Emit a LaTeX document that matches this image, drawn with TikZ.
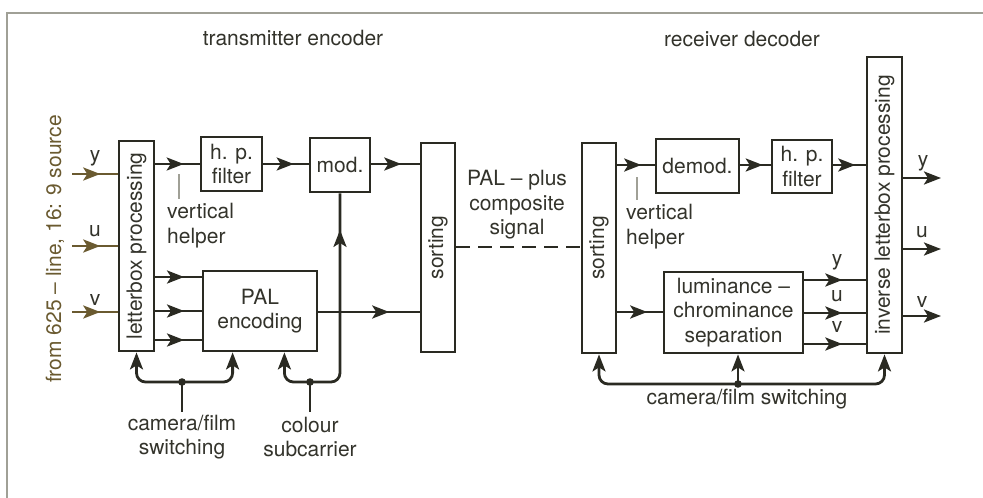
\documentclass[tikz,border=0pt]{standalone}
\usepackage{fontspec}
\usepackage{graphicx}
\setmainfont{TeX Gyre Heros}
\usetikzlibrary{arrows.meta,decorations.markings}
\definecolor{ink}{HTML}{2A2A22}
\definecolor{txt}{HTML}{33332B}
\definecolor{brn}{HTML}{6A5A30}
\definecolor{frm}{HTML}{A0A096}
\begin{document}
\begin{tikzpicture}[x=1pt,y=-1pt,
  every node/.style={font=\fontsize{21}{24.5}\selectfont, text=txt, inner sep=0pt},
  box/.style={draw=ink, line width=2.8pt, align=center},
  conn/.style={draw=ink, line width=2.8pt},
  midarrow/.style={postaction={decorate},decoration={markings,mark=at position #1 with {\arrow{Stealth[length=17pt,width=13pt,inset=4pt]}}}},
  endarrow/.style={-{Stealth[length=17pt,width=13pt,inset=4pt]}},
  tick/.style={draw=frm, line width=1.5pt},
  junction/.style={fill=ink}
]
\useasboundingbox (0,0) rectangle (983,498);
% frame
\draw[frm, line width=2pt] (983,13) -- (7,13) -- (7,498);

% headers
\node (th) at (293,38) {transmitter encoder};
\node (rh) at (742,39) {receiver decoder};

% boxes
\node[box, minimum width=35pt, minimum height=210pt] (lb) at (136.5,246) {\rotatebox{90}{letterbox processing}};
\node[box, minimum width=61pt, minimum height=54pt] (hp1) at (231.5,164) {h. p.\\filter};
\node[box, minimum width=60pt, minimum height=54pt] (mod) at (340,165) {mod.};
\node[box, minimum width=34pt, minimum height=209pt] (s1) at (438,247.5) {\rotatebox{90}{sorting}};
\node[box, minimum width=114pt, minimum height=80pt] (pal) at (260,311) {PAL\\encoding};
\node[box, minimum width=34pt, minimum height=210pt] (s2) at (599,248) {\rotatebox{90}{sorting}};
\node[box, minimum width=83pt, minimum height=54pt] (dem) at (697.5,166) {demod.};
\node[box, minimum width=60pt, minimum height=53pt] (hp2) at (802,166.5) {h. p.\\filter};
\node[box, minimum width=35pt, minimum height=296pt] (inv) at (884.5,205) {\rotatebox{90}{inverse letterbox processing}};
\node[box, minimum width=139pt, minimum height=81pt] (lum) at (733.5,312.5) {luminance –\\chrominance\\separation};

% source label and inputs
\node[text=brn] (src) at (55,249) {\rotatebox{90}{from 625 – line, 16: 9 source}};
\coordinate (iy) at (72,174);
\coordinate (iu) at (72,246);
\coordinate (iv) at (72,312);
\draw[conn, draw=brn, midarrow=0.62] (iy) -- (iy -| lb.west);
\draw[conn, draw=brn, midarrow=0.62] (iu) -- (iu -| lb.west);
\draw[conn, draw=brn, midarrow=0.62] (iv) -- (iv -| lb.west);
\node (ly) at (95,158) {y};
\node (lu) at (95,231) {u};
\node (lv) at (95,300) {v};

% transmitter connections
\draw[conn, midarrow=0.64] (lb.east |- hp1) -- (hp1.west);
\draw[conn, midarrow=0.67] (hp1.east) -- (hp1.east -| mod.west);
\draw[conn, midarrow=0.62] (mod.east |- hp1) -- (hp1 -| s1.west);
\foreach \yy in {277,311,340}{
  \draw[conn, midarrow=0.62] (lb.east |- 0,\yy) -- (pal.west |- 0,\yy);
}
\draw[conn, midarrow=0.7] (pal.east |- 0,312) -- (s1.west |- 0,312);
\draw[tick] (179,174) -- (179,199);
\node[align=left, anchor=north west] (vh1) at (167,203) {vertical\\helper};

% transmitter camera/film switching
\coordinate (cf1) at (182,382);
\coordinate (cf1e) at (182,412);
\coordinate (pa) at ([xshift=31pt]pal.south west);
\draw[conn] (cf1) -- (cf1e);
\draw[conn, endarrow, rounded corners=9pt] (cf1) -- (lb.south |- cf1) -- (lb.south);
\draw[conn, endarrow, rounded corners=9pt] (cf1) -- (pa |- cf1) -- (pa);
\fill[junction] (cf1) circle (3.8pt);
\node[align=center] (cft) at (182,437) {camera/film\\switching};

% colour subcarrier
\coordinate (cs) at (310,382);
\coordinate (cse) at (310,412);
\coordinate (pb) at ([xshift=-34pt]pal.south east);
\draw[conn] (cs) -- (cse);
\draw[conn, endarrow, rounded corners=9pt] (cs) -- (pb |- cs) -- (pb);
\draw[conn, midarrow=0.83, rounded corners=9pt] (cs) -- (mod.south |- cs) -- (mod.south);
\fill[junction] (cs) circle (3.8pt);
\node[align=center] (cst) at (310,437) {colour\\subcarrier};

% channel
\draw[conn, dash pattern=on 14pt off 8pt] (s1.east |- 0,247) -- (s2.west |- 0,247);
\node[align=center] (ch) at (517,205) {PAL – plus\\composite\\signal};

% receiver connections
\draw[conn, midarrow=0.64] (s2.east |- 0,165) -- (dem.west |- 0,165);
\draw[conn, midarrow=0.74] (dem.east |- 0,165) -- (hp2.west |- 0,165);
\draw[conn, midarrow=0.68] (hp2.east |- 0,165) -- (inv.west |- 0,165);
\draw[tick] (637,177) -- (637,200);
\node[align=left, anchor=north west] (vh2) at (626,204) {vertical\\helper};
\draw[conn, midarrow=0.66] (s2.east |- 0,312) -- (lum.west |- 0,312);
\foreach \yy in {280,313,344}{
  \draw[conn, midarrow=0.62] (lum.east |- 0,\yy) -- (inv.west |- 0,\yy);
}
\node (ry) at (837,262) {y};
\node (ru) at (837,296) {u};
\node (rv) at (837,327) {v};

% outputs
\coordinate (oy) at (941,178);
\coordinate (ou) at (941,249);
\coordinate (ov) at (941,316);
\draw[conn, endarrow] (inv.east |- oy) -- (oy);
\draw[conn, endarrow] (inv.east |- ou) -- (ou);
\draw[conn, endarrow] (inv.east |- ov) -- (ov);
\node (oyl) at (923,163) {y};
\node (oul) at (922,232) {u};
\node (ovl) at (922,302) {v};

% receiver camera/film switching
\coordinate (cf2) at (738,384);
\draw[conn, endarrow, rounded corners=9pt] (cf2) -- (s2.south |- cf2) -- (s2.south);
\draw[conn, endarrow, rounded corners=9pt] (cf2) -- (inv.south |- cf2) -- (inv.south);
\draw[conn, endarrow] (cf2) -- (cf2 |- lum.south);
\fill[junction] (cf2) circle (3.8pt);
\node (cf2t) at (747,399) {camera/film switching};
\end{tikzpicture}
\end{document}
